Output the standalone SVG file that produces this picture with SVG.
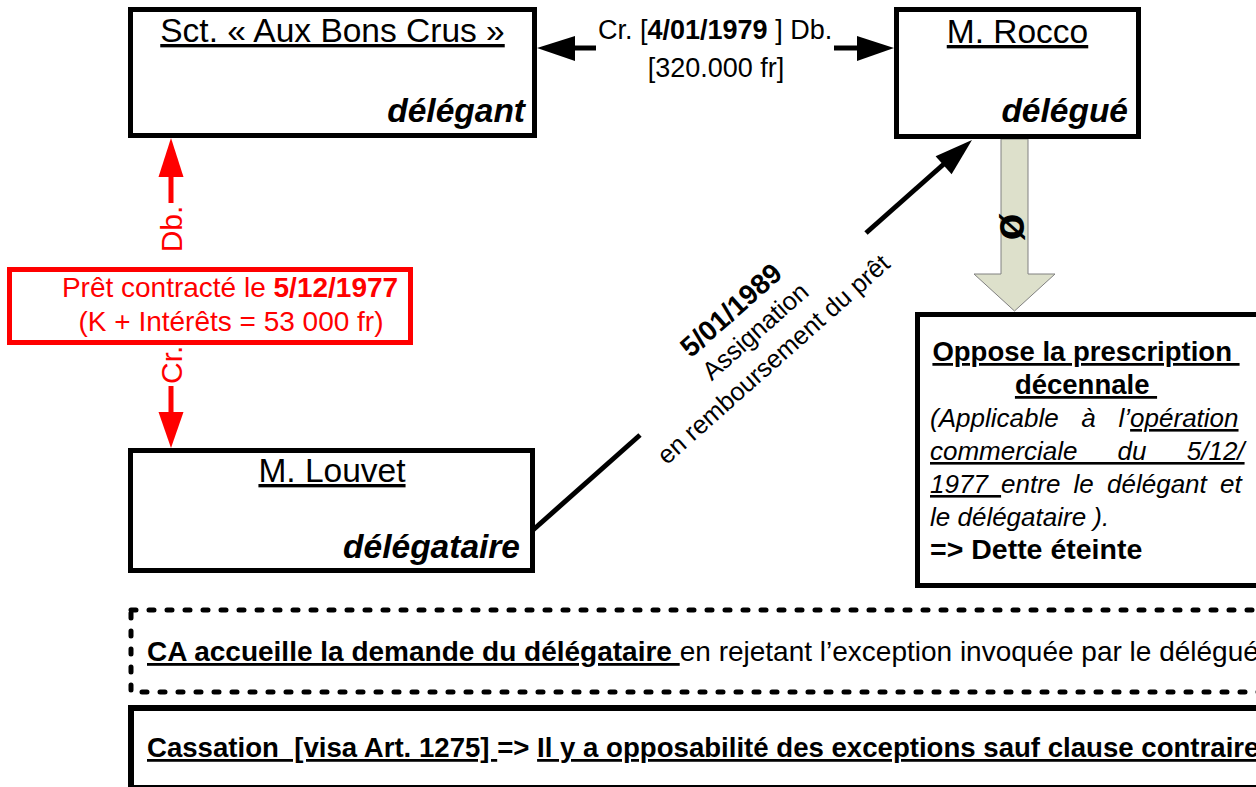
<svg xmlns="http://www.w3.org/2000/svg" width="1256" height="787" viewBox="0 0 1256 787">
  <style>
    text { font-family: "Liberation Sans", Arial, Helvetica, sans-serif; fill: #000; white-space: pre; }
    .box { fill: #fff; stroke: #000; stroke-width: 5; }
    .title { font-size: 33.5px; text-decoration: underline; text-anchor: middle; }
    .role { font-size: 33.5px; font-weight: bold; font-style: italic; text-anchor: end; }
    .lbl { font-size: 27px; }
    .red { fill: #ff0000; }
    .b { font-weight: bold; }
    .i { font-style: italic; }
    .u { text-decoration: underline; }
    .body { font-size: 26px; }
  </style>

  <rect width="1256" height="787" fill="#fff"/>

  <!-- connectors -->
  <g id="connectors">
    <!-- credit / debit between the two parties -->
    <g id="c-credit">
      <line x1="574" y1="48" x2="596" y2="48" stroke="#000" stroke-width="5"/>
      <polygon points="537,48 575,36 575,61" fill="#000"/>
      <line x1="834" y1="48" x2="858" y2="48" stroke="#000" stroke-width="5"/>
      <polygon points="857,36 894,48 857,61" fill="#000"/>
      <text class="lbl" x="598" y="39">Cr. [<tspan class="b">4/01/1979</tspan> ] Db.</text>
      <text class="lbl" x="716" y="77" text-anchor="middle">[320.000 fr]</text>
    </g>

    <!-- loan between délégant and délégataire -->
    <g id="c-loan">
      <line x1="171" y1="176" x2="171" y2="203" stroke="#ff0000" stroke-width="5"/>
      <polygon points="171,138 158.5,177 183.5,177" fill="#ff0000"/>
      <line x1="171" y1="386" x2="171" y2="413" stroke="#ff0000" stroke-width="5"/>
      <polygon points="158.5,412 183.5,412 171,448" fill="#ff0000"/>
      <text class="red" font-size="30" transform="translate(182,229) rotate(-90)" text-anchor="middle">Db.</text>
      <text class="red" font-size="30" transform="translate(182,384) rotate(-90)">Cr.</text>
    </g>

    <!-- summons from délégataire to délégué -->
    <g id="c-summons">
      <line x1="533" y1="530" x2="640" y2="435" stroke="#000" stroke-width="5"/>
      <line x1="866" y1="233" x2="945" y2="163" stroke="#000" stroke-width="5"/>
      <polygon points="972,140 951.6,174.2 935.6,156.2" fill="#000"/>
      <g transform="translate(755,331) rotate(-41.6)">
        <text class="b" font-size="28" x="-4" y="-22" text-anchor="middle">5/01/1989</text>
        <text font-size="25.5" x="0" y="9" text-anchor="middle">Assignation</text>
        <text font-size="25.5" x="-5" y="42" text-anchor="middle">en remboursement du prêt</text>
      </g>
    </g>

    <!-- exception raised by the délégué -->
    <g id="c-exception">
      <polygon points="1001,139 1028,139 1028,274 1055,274 1014.5,311 974,274 1001,274" fill="#dde0cb" stroke="#808080" stroke-width="1"/>
      <text class="b" font-size="44" transform="translate(1012,227) rotate(90)" x="0" y="12" text-anchor="middle">ø</text>
    </g>
  </g>

  <!-- parties -->
  <g id="n-delegant">
    <rect class="box" x="130.5" y="9.5" width="404" height="126"/>
    <text class="title" x="332.5" y="42">Sct. « Aux Bons Crus »</text>
    <text class="role" x="525" y="122">délégant</text>
  </g>

  <g id="n-delegue">
    <rect class="box" x="896.5" y="9.5" width="242" height="127"/>
    <text class="title" x="1017.5" y="43">M. Rocco</text>
    <text class="role" x="1128" y="122">délégué</text>
  </g>

  <g id="n-delegataire">
    <rect class="box" x="130.5" y="450.5" width="402" height="120"/>
    <text class="title" x="332" y="482">M. Louvet</text>
    <text class="role" x="520" y="558">délégataire</text>
  </g>

  <g id="n-pret">
    <rect x="9.5" y="269.5" width="401" height="73" fill="#fff" stroke="#ff0000" stroke-width="5"/>
    <text class="red" font-size="28" x="230" y="297" text-anchor="middle">Prêt contracté le <tspan class="b">5/12/1977</tspan></text>
    <text class="red" font-size="28" x="231" y="331" text-anchor="middle">(K + Intérêts = 53 000 fr)</text>
  </g>

  <g id="n-prescription">
    <rect class="box" x="917.5" y="314.5" width="360" height="271"/>
    <text class="b u" font-size="27.5" x="1086" y="361" text-anchor="middle">Oppose la prescription </text>
    <text class="b u" font-size="27.5" x="1086" y="394" text-anchor="middle">décennale </text>
    <text class="body i" x="930" y="427" word-spacing="15.5">(Applicable à l’<tspan class="u">opération</tspan></text>
    <text class="body i u" x="930" y="460" word-spacing="33">commerciale du 5/12/</text>
    <text class="body i" x="930" y="493" word-spacing="6"><tspan class="u">1977 </tspan>entre le délégant et</text>
    <text class="body i" x="930" y="526">le délégataire ).</text>
    <text class="b" font-size="28.5" x="930" y="559">=&gt; Dette éteinte</text>
  </g>

  <!-- court decisions -->
  <g id="n-ca">
    <rect x="131" y="610" width="1200" height="82" fill="none" stroke="#000" stroke-width="5" stroke-dasharray="5 13" stroke-linecap="round"/>
    <text font-size="28" x="147" y="661"><tspan class="b u">CA accueille la demande du délégataire </tspan>en rejetant l’exception invoquée par le délégué</text>
  </g>

  <g id="n-cassation">
    <rect x="131" y="708" width="1200" height="80" fill="#fff" stroke="#000" stroke-width="6"/>
    <text class="b" font-size="27.6" x="147" y="757"><tspan class="u">Cassation  [visa Art. 1275] </tspan>=&gt; <tspan class="u">Il y a opposabilité des exceptions sauf clause contraire</tspan></text>
  </g>
</svg>
